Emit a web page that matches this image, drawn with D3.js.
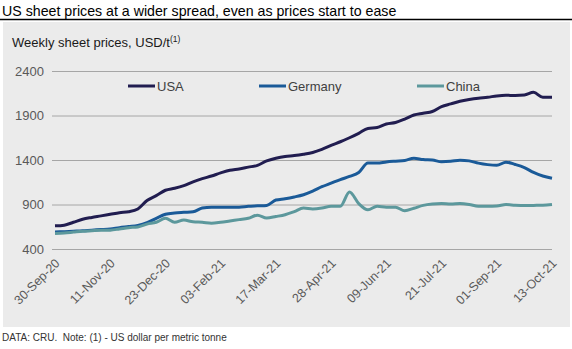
<!DOCTYPE html>
<html>
<head>
<meta charset="utf-8">
<script src="https://cdn.jsdelivr.net/npm/d3@7"></script>
<style>
  body { margin: 0; background: #fff; }
  text { font-family: "Liberation Sans", Arial, sans-serif; }
</style>
</head>
<body>
<script>
// weekly prices, USD/t, 30-Sep-20 .. 13-Oct-21
var startDate = "2020-09-30";
var usa = [660, 668, 700, 735, 755, 772, 790, 808, 818, 850, 945, 1000, 1060, 1082, 1112, 1155, 1190, 1220, 1255, 1285,
  1300, 1320, 1340, 1390, 1420, 1440, 1450, 1465, 1485, 1520, 1565, 1605, 1650, 1700, 1755, 1765, 1805, 1822, 1860, 1905,
  1925, 1945, 2000, 2030, 2060, 2080, 2095, 2105, 2120, 2127, 2125, 2130, 2160, 2105, 2105];
var germany = [590, 595, 600, 605, 612, 618, 625, 640, 652, 665, 695, 745, 790, 805, 812, 818, 860, 870, 870, 870,
  870, 880, 885, 890, 950, 965, 985, 1010, 1050, 1100, 1140, 1180, 1215, 1260, 1365, 1365, 1378, 1387, 1395, 1420,
  1405, 1400, 1380, 1385, 1398, 1390, 1365, 1348, 1340, 1376, 1350, 1315, 1260, 1220, 1195];
var china = [575, 580, 590, 600, 605, 610, 612, 625, 640, 648, 680, 700, 745, 700, 725, 705, 700, 690, 700, 715,
  730, 745, 780, 748, 765, 785, 820, 860, 850, 860, 880, 880, 1040, 910, 840, 880, 870, 870, 830, 858,
  890, 905, 910, 905, 910, 900, 880, 880, 882, 900, 892, 888, 890, 892, 900];
var yTicks = [400, 900, 1400, 1900, 2400];
var xTickLabels = ["30-Sep-20", "11-Nov-20", "23-Dec-20", "03-Feb-21", "17-Mar-21", "28-Apr-21", "09-Jun-21", "21-Jul-21", "01-Sep-21", "13-Oct-21"];

var series = [
  { name: "USA", values: usa, color: "#211d50" },
  { name: "Germany", values: germany, color: "#1a5a98" },
  { name: "China", values: china, color: "#5c989c" }
];

var W = 572, H = 349;
var svg = d3.select("body").append("svg").attr("width", W).attr("height", H);

var parse = d3.timeParse("%Y-%m-%d");
var t0 = parse(startDate);
var dates = usa.map(function (d, i) { return d3.timeDay.offset(t0, i * 7); });

var x = d3.scaleTime().domain([dates[0], dates[dates.length - 1]]).range([55, 552]);
var y = d3.scaleLinear().domain([400, 2400]).range([249, 71]);

// title
svg.append("text").attr("x", 2).attr("y", 16).attr("font-size", 14.2).attr("fill", "#000")
  .text("US sheet prices at a wider spread, even as prices start to ease");
svg.append("line").attr("x1", 0).attr("x2", W).attr("y1", 19.5).attr("y2", 19.5)
  .attr("stroke", "#000").attr("stroke-width", 1.3);

// panel
svg.append("rect").attr("x", 3).attr("y", 22).attr("width", 567).attr("height", 305).attr("fill", "#ebebeb");

var sub = svg.append("text").attr("x", 12).attr("y", 47).attr("font-size", 13).attr("fill", "#1a1a1a");
sub.append("tspan").text("Weekly sheet prices, USD/t");
sub.append("tspan").attr("font-size", 8.5).attr("dy", -5).text("(1)");

// gridlines + y labels
var yAxis = d3.axisLeft(y).tickValues(yTicks).tickSize(-500).tickPadding(8).tickFormat(d3.format("d"));
var gy = svg.append("g").attr("transform", "translate(52,0)").call(yAxis);
gy.select(".domain").remove();
gy.selectAll(".tick line").attr("stroke", "#a6a6a6").attr("stroke-width", 1);
gy.selectAll(".tick text").attr("font-size", 13).attr("fill", "#595959")
  .attr("font-family", "Liberation Sans, Arial, sans-serif");

// x labels
var tickDates = xTickLabels.map(function (d, i) { return dates[i * 6]; });
var xAxis = d3.axisBottom(x).tickValues(tickDates).tickSize(0)
  .tickFormat(function (d, i) { return xTickLabels[i]; });
var gx = svg.append("g").attr("transform", "translate(0,249)").call(xAxis);
gx.select(".domain").remove();
gx.selectAll(".tick text").attr("font-size", 12.5).attr("fill", "#595959")
  .attr("font-family", "Liberation Sans, Arial, sans-serif")
  .attr("text-anchor", "end").attr("dy", 0).attr("y", 0)
  .attr("transform", "translate(5,15) rotate(-45)");

// lines
var line = d3.line().x(function (d, i) { return x(dates[i]); }).y(function (d) { return y(d); })
  .curve(d3.curveMonotoneX);
series.forEach(function (s) {
  svg.append("path").datum(s.values).attr("d", line).attr("fill", "none")
    .attr("stroke", s.color).attr("stroke-width", 3).attr("stroke-linejoin", "round");
});

// legend
var legX = [128, 259, 417];
series.forEach(function (s, i) {
  svg.append("line").attr("x1", legX[i]).attr("x2", legX[i] + 27).attr("y1", 86).attr("y2", 86)
    .attr("stroke", s.color).attr("stroke-width", 3);
  svg.append("text").attr("x", legX[i] + 29).attr("y", 90.5).attr("font-size", 13).attr("fill", "#404040")
    .text(s.name);
});

// footer
svg.append("text").attr("x", 2).attr("y", 341).attr("font-size", 10).attr("fill", "#333")
  .style("white-space", "pre")
  .text("DATA: CRU.  Note: (1) - US dollar per metric tonne");
</script>
</body>
</html>
